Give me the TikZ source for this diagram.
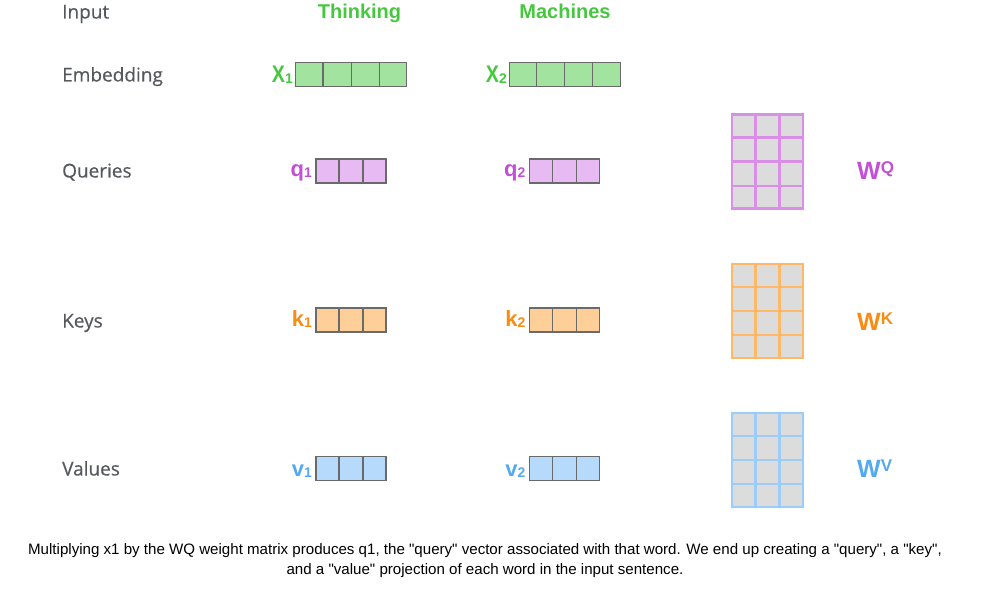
\documentclass[tikz,border=0pt]{standalone}
\usepackage{fontspec}
\setmainfont{Liberation Sans}[Ligatures=TeXOff]
\newfontfamily\rowfont{Open Sans}[FakeBold=0.4]
\usetikzlibrary{calc}
\definecolor{rowgray}{HTML}{55595E}
\definecolor{wordgreen}{HTML}{45C83E}
\definecolor{embfill}{HTML}{A3E3A0}
\definecolor{qfill}{HTML}{E8BAF3}
\definecolor{kfill}{HTML}{FFCF99}
\definecolor{vfill}{HTML}{B5DAFB}
\definecolor{qtext}{HTML}{C24FD6}
\definecolor{ktext}{HTML}{F98C12}
\definecolor{vtext}{HTML}{53AAF2}
\definecolor{qline}{HTML}{D98FE8}
\definecolor{kline}{HTML}{FFB866}
\definecolor{vline}{HTML}{9CCDFA}
\definecolor{cellgray}{HTML}{DCDCDD}
\definecolor{vecline}{HTML}{6A6A6A}
\tikzset{
  rowlabel/.style={anchor=base west, inner sep=0pt, text=rowgray, font=\rowfont\fontsize{19}{21}\selectfont},
  wordlabel/.style={anchor=base, inner sep=0pt, text=wordgreen, font=\bfseries\fontsize{20}{22}\selectfont},
  veclabel/.style={anchor=base east, inner sep=0pt, font=\bfseries\fontsize{22}{24}\selectfont},
  vecbox/.style={draw=vecline, line width=1.3pt, minimum height=24pt, inner sep=0pt},
  matbox/.style={line width=2.6pt, fill=cellgray, minimum width=71pt, minimum height=94pt, inner sep=0pt},
  wlabel/.style={anchor=base west, inner sep=0pt, font=\bfseries\fontsize{25}{27}\selectfont}
}
\newcommand{\subdig}[1]{{\fontsize{14}{14}\selectfont\raisebox{-1pt}{#1}}}
\newcommand{\supl}[1]{{\fontsize{17}{17}\selectfont\raisebox{6pt}{#1}}}
\newcommand{\bigX}{\scalebox{0.82}[1]{\fontsize{24}{24}\selectfont X}}
\begin{document}
\begin{tikzpicture}[x=1pt,y=-1pt]
\useasboundingbox (0,0) rectangle (981,601);

% row labels
\node[rowlabel] (lin) at (62,18.5) {Input};
\node[rowlabel] (lemb) at (62,81.5) {Embedding};
\node[rowlabel] (lq) at (62,177.5) {Queries};
\node[rowlabel] (lk) at (62,327.5) {Keys};
\node[rowlabel] (lv) at (62,475.5) {Values};

% words
\node[wordlabel] (w1) at (359.5,18.5) {Thinking};
\node[wordlabel] (w2) at (565,18.5) {Machines};

% embedding vectors
\node[vecbox, fill=embfill, minimum width=111pt] (x1) at (351.2,74.7) {};
\node[vecbox, fill=embfill, minimum width=111pt] (x2) at (564.7,74.7) {};
\foreach \v in {x1,x2}{
  \foreach \i in {1,2,3}{
    \draw[draw=vecline, line width=1.3pt] ($(\v.north west)!\i/4!(\v.north east)$) -- ($(\v.south west)!\i/4!(\v.south east)$);
  }
}
\node[veclabel, text=wordgreen] (lx1) at (293,83) {\bigX\subdig{1}};
\node[veclabel, text=wordgreen] (lx2) at (507,83) {\bigX\subdig{2}};

% q k v vectors
\node[vecbox, fill=qfill, minimum width=70pt] (q1) at (351,171) {};
\node[vecbox, fill=qfill, minimum width=70pt] (q2) at (564.3,171) {};
\node[vecbox, fill=kfill, minimum width=70pt] (k1) at (351,320) {};
\node[vecbox, fill=kfill, minimum width=70pt] (k2) at (564.3,320) {};
\node[vecbox, fill=vfill, minimum width=70pt] (v1) at (351,468.7) {};
\node[vecbox, fill=vfill, minimum width=70pt] (v2) at (564.3,468.7) {};
\foreach \v in {q1,q2,k1,k2,v1,v2}{
  \foreach \i in {1,2}{
    \draw[draw=vecline, line width=1.3pt] ($(\v.north west)!\i/3!(\v.north east)$) -- ($(\v.south west)!\i/3!(\v.south east)$);
  }
}
\node[veclabel, text=qtext] (lq1) at (312,177) {q\subdig{1}};
\node[veclabel, text=qtext] (lq2) at (525.5,177) {q\subdig{2}};
\node[veclabel, text=ktext] (lk1) at (312,326) {k\subdig{1}};
\node[veclabel, text=ktext] (lk2) at (525.5,326) {k\subdig{2}};
\node[veclabel, text=vtext] (lv1) at (312,476) {v\subdig{1}};
\node[veclabel, text=vtext] (lv2) at (525.5,476) {v\subdig{2}};

% weight matrices
\node[matbox, draw=qline] (wq) at (767.5,161.7) {};
\node[matbox, draw=kline] (wk) at (767.5,311) {};
\node[matbox, draw=vline] (wv) at (767.5,460) {};
\foreach \m/\c in {wq/qline,wk/kline,wv/vline}{
  \foreach \i in {1,2}{
    \draw[draw=\c, line width=2.6pt] ($(\m.north west)!\i/3!(\m.north east)$) -- ($(\m.south west)!\i/3!(\m.south east)$);
  }
  \foreach \j in {1,2,3}{
    \draw[draw=\c, line width=2.6pt] ($(\m.north west)!\j/4!(\m.south west)$) -- ($(\m.north east)!\j/4!(\m.south east)$);
  }
}
\node[wlabel, text=qtext] (lwq) at (857,180) {W\supl{Q}};
\node[wlabel, text=ktext] (lwk) at (857,330) {W\supl{K}};
\node[wlabel, text=vtext] (lwv) at (857,477.7) {W\supl{V}};

% caption
\node[anchor=north, inner sep=0pt, align=center, font=\fontsize{15.1}{20}\selectfont] (cap) at (485,543)
  {Multiplying x1 by the WQ weight matrix produces q1, the "query" vector associated with that word. We end up creating a "query", a "key",\\
   and a "value" projection of each word in the input sentence.};
\end{tikzpicture}
\end{document}
